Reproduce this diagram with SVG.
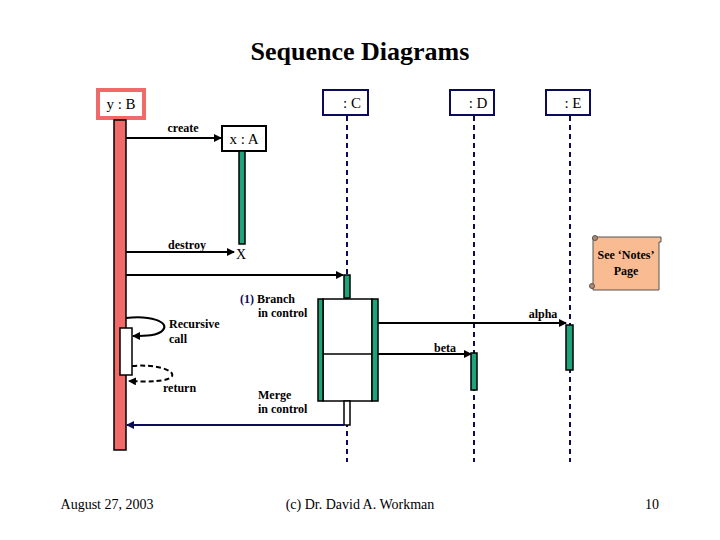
<svg xmlns="http://www.w3.org/2000/svg" width="720" height="540" viewBox="0 0 720 540">
<style>
text{font-family:"Liberation Serif",serif;fill:#000}
.obj{fill:#fff;stroke:#0b0b5a;stroke-width:2}
.lbl{font-size:15px}
.sm{font-size:12px;font-weight:bold}
.life{stroke:#0b0b5a;stroke-width:2;stroke-dasharray:5,4}
.msg{stroke:#000;stroke-width:2;fill:none}
.act{fill:#1fa37a;stroke:#000;stroke-width:1.5}
</style>
<defs>
<marker id="ah" markerWidth="8" markerHeight="8" refX="7" refY="4" orient="auto" markerUnits="userSpaceOnUse"><path d="M0,0L8,4L0,8z" fill="#000"/></marker>
<marker id="ahn" markerWidth="8" markerHeight="8" refX="7" refY="4" orient="auto" markerUnits="userSpaceOnUse"><path d="M0,0L8,4L0,8z" fill="#0b0b5a"/></marker>
</defs>
<text x="360" y="60" text-anchor="middle" font-size="26" font-weight="bold">Sequence Diagrams</text>
<g id="lifelines">
<line class="life" x1="347" y1="116" x2="347" y2="462"/>
<line class="life" x1="474" y1="116" x2="474" y2="462"/>
<line class="life" x1="570" y1="116" x2="570" y2="462"/>
</g>
<g id="B"><rect x="98" y="90" width="46" height="28" fill="#fff" stroke="#f06a6a" stroke-width="4"/><text x="121" y="109" text-anchor="middle" class="lbl">y : B</text>
<rect x="114" y="120" width="12" height="330" fill="#f06a6a" stroke="#000" stroke-width="1.5"/>
<rect x="120" y="328" width="12" height="47" fill="#fff" stroke="#000" stroke-width="1.5"/></g>
<g id="C"><rect class="obj" x="323" y="90" width="45" height="25"/><text x="352" y="108" text-anchor="middle" class="lbl">: C</text></g>
<g id="D"><rect class="obj" x="450" y="90" width="44" height="25"/><text x="478" y="108" text-anchor="middle" class="lbl">: D</text></g>
<g id="E"><rect class="obj" x="546" y="90" width="44" height="25"/><text x="573" y="108" text-anchor="middle" class="lbl">: E</text></g>
<g id="A"><rect x="222" y="126" width="44" height="25" fill="#fff" stroke="#000" stroke-width="2"/><text x="244" y="144" text-anchor="middle" class="lbl">x : A</text>
<rect class="act" x="239" y="151" width="6" height="93"/>
<text x="241" y="259" text-anchor="middle" font-size="14" font-family="Liberation Sans,sans-serif">X</text></g>
<g id="activations">
<rect class="act" x="344" y="275" width="6" height="23"/>
<rect x="323" y="299" width="49" height="102" fill="#fff" stroke="#000" stroke-width="1.5"/>
<line x1="323" y1="354" x2="372" y2="354" stroke="#000" stroke-width="1.5"/>
<rect class="act" x="318" y="299" width="5" height="102"/>
<rect class="act" x="372" y="299" width="6" height="102"/>
<rect x="344" y="401" width="6" height="24" fill="#fff" stroke="#000" stroke-width="1.5"/>
<rect class="act" x="566" y="325" width="7" height="45"/>
<rect class="act" x="471" y="353" width="6" height="37"/>
</g>
<g id="connectors">
<line class="msg" x1="126" y1="138" x2="221" y2="138" marker-end="url(#ah)"/>
<line class="msg" x1="126" y1="252" x2="234" y2="252" marker-end="url(#ah)"/>
<line class="msg" x1="126" y1="275" x2="343" y2="275" marker-end="url(#ah)"/>
<line class="msg" x1="378" y1="323" x2="566" y2="323" marker-end="url(#ah)"/>
<line class="msg" x1="378" y1="354" x2="471" y2="354" marker-end="url(#ah)"/>
<line x1="344" y1="425" x2="127" y2="425" stroke="#0b0b5a" stroke-width="2" marker-end="url(#ahn)"/>
<path class="msg" d="M126,318 C150,315 170,322 163,330 C158,336 145,336 133,336" marker-end="url(#ah)"/>
<path class="msg" stroke-dasharray="5,3" d="M132,366 C155,364 175,370 172,376 C168,382 148,382 129,381" marker-end="url(#ah)"/>
</g>
<g id="labels">
<text x="183" y="132" text-anchor="middle" class="sm">create</text>
<text x="187" y="249" text-anchor="middle" class="sm">destroy</text>
<text x="240" y="303" class="sm"><tspan fill="#0b0b5a">(1)</tspan> Branch</text>
<text x="258" y="317" class="sm">in control</text>
<text x="169" y="328" class="sm">Recursive</text>
<text x="169" y="343" class="sm">call</text>
<text x="163" y="392" class="sm">return</text>
<text x="258" y="399" class="sm">Merge</text>
<text x="258" y="413" class="sm">in control</text>
<text x="543" y="318" text-anchor="middle" class="sm">alpha</text>
<text x="445" y="352" text-anchor="middle" class="sm">beta</text>
</g>
<g id="note">
<path d="M593,237 L661,237 L661,242 L659,242 L659,290 L593,290 Z" fill="#f9bb92" stroke="#555" stroke-width="1"/>
<circle cx="595" cy="238" r="2.5" fill="#b9876a" stroke="#555"/>
<circle cx="592" cy="286" r="2.5" fill="#b9876a" stroke="#555"/>
<text x="626" y="259" text-anchor="middle" class="sm">See ‘Notes’</text>
<text x="626" y="275" text-anchor="middle" class="sm">Page</text>
</g>
<text x="107" y="509" text-anchor="middle" font-size="14">August 27, 2003</text>
<text x="360" y="509" text-anchor="middle" font-size="14">(c) Dr. David A. Workman</text>
<text x="652" y="509" text-anchor="middle" font-size="14">10</text>
</svg>
